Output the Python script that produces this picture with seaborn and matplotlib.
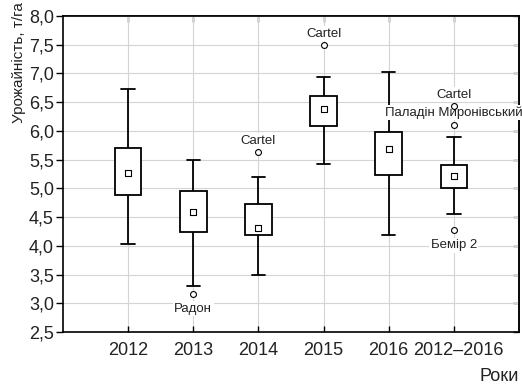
import numpy as np
import pandas as pd
import matplotlib
matplotlib.use("Agg")
import matplotlib.pyplot as plt
from matplotlib.ticker import FuncFormatter
from matplotlib.transforms import ScaledTranslation
import seaborn as sns

# Yield summary per season: non-outlier range, quartiles and median (t/ha)
years = ["2012", "2013", "2014", "2015", "2016", "2012–2016"]
whisker_low = [4.03, 3.30, 3.49, 5.43, 4.19, 4.55]
q1 = [4.88, 4.24, 4.18, 6.08, 5.23, 5.01]
median = [5.26, 4.58, 4.31, 6.39, 5.69, 5.21]
q3 = [5.70, 4.95, 4.73, 6.61, 5.98, 5.41]
whisker_high = [6.73, 5.49, 5.19, 6.94, 7.03, 5.89]

# Outlying varieties
outlier_year = ["2013", "2014", "2015", "2012–2016", "2012–2016", "2012–2016"]
outlier_value = [3.17, 5.63, 7.49, 6.43, 6.11, 4.27]
outlier_label = ["Радон", "Cartel", "Cartel", "Cartel", "Паладін Миронівський", "Бемір 2"]
label_above = [False, True, True, True, True, False]

yticks = np.arange(2.5, 8.01, 0.5)

sns.set_theme(style="ticks")
plt.rcParams["font.family"] = ["Liberation Sans", "DejaVu Sans"]

# Five-number table per year: boxes span Q1–Q3, whiskers span min–max
summary = pd.DataFrame({
    "year": np.repeat(years, 5),
    "value": np.column_stack([whisker_low, q1, median, q3, whisker_high]).ravel(),
})

fig = plt.figure(figsize=(5.22, 3.84), dpi=100)
ax = fig.add_axes([63 / 522, 1 - 332 / 384, (519 - 63) / 522, (332 - 16) / 384])

sns.boxplot(data=summary, x="year", y="value", order=years, whis=(0, 100),
            width=0.41, color="white", linecolor="black", linewidth=1.3,
            saturation=1, showfliers=False, medianprops={"visible": False},
            ax=ax)

pos = {y: i for i, y in enumerate(years)}

# Median markers
sns.scatterplot(x=[pos[y] for y in years], y=median, marker="s", s=18,
                color="white", edgecolor="black", linewidth=0.8, zorder=6, ax=ax)

# Outliers
ox = [pos[y] for y in outlier_year]
sns.scatterplot(x=ox, y=outlier_value, marker="o", s=18, color="white",
                edgecolor="black", linewidth=0.8, zorder=6, ax=ax)

for x, v, lab, up in zip(ox, outlier_value, outlier_label, label_above):
    ax.annotate(lab, (x, v), xytext=(0, 4 if up else -6.5), textcoords="offset points",
                ha="center", va="bottom" if up else "top", fontsize=9.5,
                color="#222222", zorder=5,
                bbox=dict(boxstyle="square,pad=0.1", fc="white", ec="none"))

ax.set_xlim(-1, 6)
ax.set_ylim(2.5, 8.0)
ax.set_yticks(yticks)
ax.yaxis.set_major_formatter(FuncFormatter(lambda v, _: f"{v:.1f}".replace(".", ",")))
ax.grid(True, color="#d4d4d4", linewidth=0.8)
ax.set_axisbelow(True)

for s in ax.spines.values():
    s.set_visible(True)
    s.set_color("black")
    s.set_linewidth(1.2)

ax.tick_params(axis="y", direction="out", length=5, width=1, pad=1.5,
               labelsize=13, colors="black", labelcolor="#222222")
ax.tick_params(axis="x", direction="in", length=4, width=1, pad=7,
               labelsize=13, colors="black", labelcolor="#222222")

right = ax.secondary_yaxis("right")
right.set_yticks(yticks)
right.tick_params(direction="in", length=4, width=1, labelright=False)
right.spines["right"].set_linewidth(1.2)
top = ax.secondary_xaxis("top")
top.set_xticks(range(len(years)))
top.tick_params(direction="in", length=4, width=1, labeltop=False)
top.spines["top"].set_linewidth(1.2)

# nudge the long period label away from its neighbour
last = ax.get_xticklabels()[-1]
last.set_transform(last.get_transform() + ScaledTranslation(0.05, 0, fig.dpi_scale_trans))

ax.set_xlabel("Роки", loc="right", fontsize=13, color="#222222", labelpad=7)
ax.set_ylabel("")
fig.text(0.037, 0.995, "Урожайність, т/га", rotation=90, va="top", ha="center",
         fontsize=11, color="#222222")

fig.savefig("out.png", dpi=100)
